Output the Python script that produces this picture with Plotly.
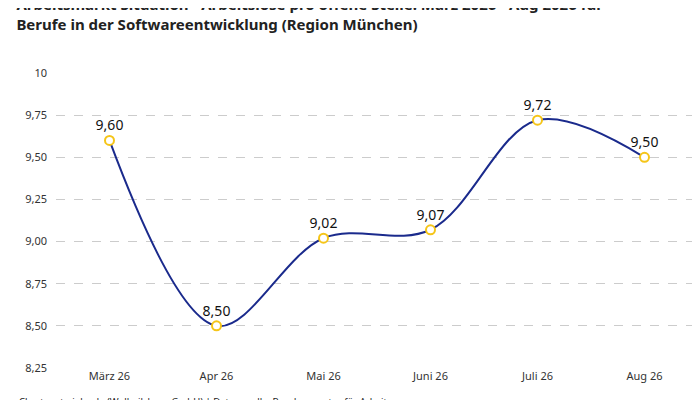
import plotly.graph_objects as go

months = ["März 26", "Apr 26", "Mai 26", "Juni 26", "Juli 26", "Aug 26"]
values = [9.60, 8.50, 9.02, 9.07, 9.72, 9.50]
tick_vals = [8.25, 8.5, 8.75, 9.0, 9.25, 9.5, 9.75, 10]
tick_text = ["8,25", "8,50", "8,75", "9,00", "9,25", "9,50", "9,75", "10"]

fig = go.Figure()
fig.add_trace(go.Scatter(
    x=months, y=values, mode="lines+markers+text",
    line={"color": "#1a2a8c", "width": 2, "shape": "spline", "smoothing": 1.0},
    marker={"size": 9, "color": "white", "line": {"color": "#f5c518", "width": 2}},
    text=[f"{v:.2f}".replace(".", ",") for v in values],
    textposition="top center",
    textfont={"size": 14, "color": "#111"},
    cliponaxis=False,
))

fig.update_layout(
    width=700, height=400,
    font={"family": "Noto Sans", "color": "#333"},
    title={"text": "<b>Arbeitsmarkt Situation - Arbeitslose pro offene Stelle: März 2026 - Aug 2026 für<br>Berufe in der Softwareentwicklung (Region München)</b>",
           "x": 0.012, "y": 0.995, "yref": "container", "yanchor": "top", "xanchor": "left",
           "font": {"size": 15, "color": "#222"}},
    plot_bgcolor="white", paper_bgcolor="white",
    margin={"l": 48, "r": 10, "t": 65, "b": 40},
    showlegend=False,
)
fig.update_xaxes(range=[-0.5, 5.5], showgrid=False, showline=False, ticks="", tickfont={"size": 11})
fig.update_yaxes(range=[8.25, 10], tickvals=tick_vals, ticktext=tick_text,
                 showgrid=True, gridcolor="#cccccc", griddash="dash",
                 zeroline=False, tickfont={"size": 11}, ticklabelstandoff=8)
fig.add_annotation(text="Chart: gute-jobs.de (Wollmilchsau GmbH) | Datenquelle: Bundesagentur für Arbeit",
                   xref="paper", yref="paper", x=-0.06, y=-0.112, xanchor="left", yanchor="middle",
                   showarrow=False, font={"size": 9.5, "color": "#222"})
fig.write_html("out.html")
